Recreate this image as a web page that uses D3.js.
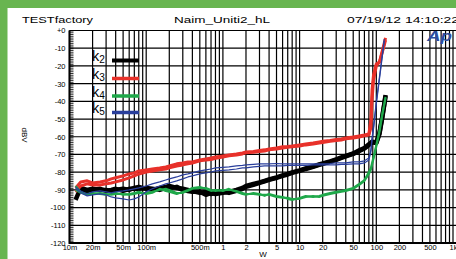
<!DOCTYPE html>
<html>
<head>
<meta charset="utf-8">
<script src="https://cdn.jsdelivr.net/npm/d3@7"></script>
<style>
  html, body { margin: 0; padding: 0; background: #fff; }
  svg { display: block; }
  text { font-family: "Liberation Sans", Arial, sans-serif; fill: #000; }
</style>
</head>
<body>
<div id="chart"></div>
<script>
// sweep points (output power, W)
var sweepW = [0.012, 0.014, 0.017, 0.02, 0.025, 0.03, 0.035, 0.04, 0.05, 0.06,
  0.07, 0.08, 0.1, 0.12, 0.15, 0.18, 0.2, 0.25, 0.3, 0.35,
  0.4, 0.5, 0.6, 0.7, 0.8, 1, 1.2, 1.5, 1.8, 2,
  2.5, 3, 3.5, 4, 5, 6, 7, 8, 10, 12,
  15, 18, 20, 25, 30, 35, 40, 50, 60, 70,
  80, 85, 88, 92, 100, 110, 120, 127, 132];

// harmonic levels, dBV (two channels each)
var k2Left = [-95.7, -88.9, -90.0, -89.4, -90.0, -90.0, -90.6, -90.0, -89.4, -90.0,
  -88.9, -88.3, -89.4, -90.0, -88.9, -88.3, -87.8, -88.9, -89.4, -90.0,
  -90.6, -91.7, -91.1, -92.3, -91.7, -91.1, -91.7, -90.6, -89.4, -88.3,
  -87.2, -86.1, -85.2, -84.4, -83.2, -82.1, -81.3, -80.4, -79.3, -78.2,
  -77.0, -75.9, -75.3, -74.2, -73.1, -72.0, -71.1, -69.7, -68.0, -66.6,
  -64.6, -63.8, -62.9, -63.2, -63.5, -58.4, -48.8, -42.0, -37.0];
var k2Right = [-90.0, -90.0, -90.6, -90.0, -89.4, -90.6, -90.0, -89.4, -90.6, -89.4,
  -89.4, -89.4, -88.9, -89.4, -90.0, -88.9, -88.9, -88.3, -90.0, -90.6,
  -91.1, -91.1, -92.8, -91.7, -92.3, -91.7, -91.1, -90.0, -88.9, -87.8,
  -86.6, -85.8, -84.9, -84.1, -83.0, -81.8, -81.0, -80.1, -79.0, -77.9,
  -76.7, -75.6, -75.1, -73.9, -72.8, -71.7, -70.8, -69.4, -67.7, -66.3,
  -64.3, -63.5, -62.9, -62.9, -63.2, -57.8, -48.3, -41.5, -36.4];
var k3Left = [-88.9, -85.5, -84.9, -86.1, -85.5, -84.9, -83.8, -83.2, -82.1, -81.0,
  -80.4, -79.3, -78.7, -78.2, -77.6, -77.0, -76.5, -75.3, -74.8, -74.2,
  -74.2, -73.1, -72.5, -72.0, -71.4, -70.8, -70.3, -69.7, -69.1, -68.6,
  -68.3, -67.7, -67.4, -66.9, -66.3, -65.7, -65.5, -65.2, -64.6, -64.1,
  -63.5, -62.9, -62.6, -62.1, -61.5, -61.2, -60.7, -60.1, -59.5, -59.0,
  -58.4, -50.5, -33.6, -25.1, -18.9, -17.8, -11.3, -7.2, -4.2];
var k3Right = [-91.1, -87.8, -86.6, -87.2, -87.2, -86.6, -86.1, -85.5, -84.4, -83.2,
  -82.1, -81.0, -79.9, -79.3, -78.7, -78.2, -77.6, -76.5, -75.9, -75.3,
  -74.8, -73.6, -73.1, -72.8, -72.2, -71.4, -70.8, -70.3, -69.7, -69.1,
  -68.8, -68.3, -68.0, -67.4, -66.9, -66.3, -66.0, -65.7, -65.2, -64.6,
  -64.1, -63.5, -63.2, -62.6, -62.1, -61.8, -61.2, -60.7, -60.1, -59.5,
  -59.0, -55.0, -39.2, -27.9, -20.0, -17.8, -12.1, -8.2, -5.4];
var k4Left = [-90.0, -91.7, -92.3, -91.7, -92.3, -92.8, -92.3, -91.7, -92.8, -92.3,
  -91.7, -91.1, -92.3, -91.7, -89.4, -90.6, -91.1, -92.3, -91.1, -90.0,
  -88.9, -88.3, -89.4, -90.6, -90.0, -90.6, -89.4, -91.1, -92.3, -92.8,
  -91.7, -92.3, -93.4, -92.3, -93.4, -94.0, -95.1, -95.7, -94.5, -93.4,
  -94.0, -93.4, -92.8, -91.7, -91.1, -90.6, -90.0, -88.9, -86.6, -84.4,
  -79.9, -77.6, -74.8, -71.4, -64.6, -56.2, -46.6, -41.5, -37.5];
var k4Right = [-87.8, -91.1, -92.8, -92.3, -91.7, -92.3, -92.8, -92.3, -92.3, -92.8,
  -92.3, -91.7, -91.7, -91.1, -90.0, -89.4, -90.0, -91.7, -91.7, -90.6,
  -89.4, -88.9, -88.9, -90.0, -90.6, -90.0, -90.0, -90.6, -91.7, -92.3,
  -92.3, -92.8, -92.8, -92.8, -94.0, -94.5, -94.5, -95.1, -95.1, -94.0,
  -93.4, -94.0, -93.4, -92.3, -91.7, -91.1, -90.6, -89.4, -87.2, -84.9,
  -81.0, -78.7, -75.9, -72.5, -65.7, -57.3, -47.7, -42.0, -38.1];
var k5Left = [-88.3, -90.6, -92.3, -91.1, -90.6, -91.1, -91.7, -91.1, -90.6, -90.0,
  -89.4, -88.9, -87.8, -86.6, -85.5, -84.4, -83.8, -82.7, -81.5, -81.0,
  -80.4, -79.3, -78.7, -78.2, -77.6, -77.3, -77.0, -76.5, -76.2, -75.9,
  -75.6, -75.3, -75.3, -75.3, -75.1, -75.3, -75.3, -75.3, -75.3, -75.3,
  -75.3, -75.3, -75.3, -75.1, -74.8, -74.8, -74.8, -74.2, -74.2, -73.6,
  -72.0, -67.4, -60.7, -54.5, -40.3, -26.2, -13.3, -4.8, null];
var k5Right = [-89.4, -91.7, -93.4, -92.8, -92.3, -92.8, -94.0, -94.5, -95.1, -95.7,
  -95.1, -94.0, -91.1, -89.4, -87.8, -86.6, -86.1, -84.9, -83.8, -82.7,
  -82.1, -81.0, -80.4, -79.9, -79.3, -79.0, -78.7, -78.2, -77.6, -77.6,
  -77.0, -76.7, -76.5, -76.5, -76.5, -76.5, -76.2, -76.2, -76.2, -76.2,
  -75.9, -75.9, -75.9, -75.9, -75.9, -75.6, -75.6, -75.3, -75.3, -74.8,
  -73.1, -68.6, -61.8, -55.6, -41.5, -27.3, -14.4, -5.9, null];

var seriesNames = ['2', '3', '4', '5'];
var seriesColors = ['#000000', '#e8312a', '#1fa84a', '#2a3f9c'];
var seriesWidths = [4.5, 3, 2, 1.2];
var seriesData = [[k2Left, k2Right], [k3Left, k3Right], [k4Left, k4Right], [k5Left, k5Right]];

var xTickLabels = [0.01, 0.02, 0.05, 0.1, 0.5, 1, 2, 5, 10, 20, 50, 100, 200, 500, 1000];
var yTickValues = d3.range(-120, 1, 10);

var width = 456, height = 259;

var svg = d3.select('#chart').append('svg')
  .attr('width', width)
  .attr('height', height);

// green frame
svg.append('rect').attr('x', 0).attr('y', 0).attr('width', width).attr('height', 8).attr('fill', '#68b550');
svg.append('rect').attr('x', 0).attr('y', 0).attr('width', 7.5).attr('height', height).attr('fill', '#68b550');

var x = d3.scaleLog().domain([0.01, 1000]).range([69.5, 453]);
var y = d3.scaleLinear().domain([-120, 0]).range([243, 30.5]);

// header texts
svg.append('text').attr('x', 22).attr('y', 23).attr('font-size', 9)
  .attr('textLength', 71).attr('lengthAdjust', 'spacingAndGlyphs').text('TESTfactory');
svg.append('text').attr('x', 174).attr('y', 23).attr('font-size', 9)
  .attr('textLength', 96).attr('lengthAdjust', 'spacingAndGlyphs').text('Naim_Uniti2_hL');
svg.append('text').attr('x', 347).attr('y', 23).attr('font-size', 9)
  .attr('textLength', 112).attr('lengthAdjust', 'spacingAndGlyphs').text('07/19/12 14:10:22');

// grid
var grid = svg.append('g');
grid.selectAll('line.v').data(x.ticks()).enter().append('line')
  .attr('x1', function(d) { return x(d); }).attr('x2', function(d) { return x(d); })
  .attr('y1', y(0)).attr('y2', y(-120))
  .attr('stroke', '#000').attr('stroke-width', 1.2);
grid.selectAll('line.h').data(yTickValues).enter().append('line')
  .attr('x1', x(0.01)).attr('x2', width)
  .attr('y1', function(d) { return y(d); }).attr('y2', function(d) { return y(d); })
  .attr('stroke', '#000').attr('stroke-width', 1.2);

// y axis: labels on the left, fine ticks inside
var yAxis = svg.append('g').attr('transform', 'translate(' + x(0.01) + ',0)')
  .call(d3.axisLeft(y).tickValues(yTickValues).tickSize(0).tickPadding(4)
    .tickFormat(function(d) { return d === 0 ? '+0' : d; }));
yAxis.select('.domain').remove();
yAxis.selectAll('text').attr('font-size', 7.5).attr('font-family', '"Liberation Sans", Arial, sans-serif');

var yMinor = svg.append('g').attr('transform', 'translate(' + x(0.01) + ',0)')
  .call(d3.axisRight(y).tickValues(d3.range(-120, 1, 1)).tickSize(4).tickFormat(''));
yMinor.select('.domain').remove();
yMinor.selectAll('line').attr('stroke-width', 0.8);

svg.append('line').attr('x1', x(0.01)).attr('x2', x(0.01)).attr('y1', y(0)).attr('y2', y(-120) + 1)
  .attr('stroke', '#000').attr('stroke-width', 2);
svg.append('line').attr('x1', x(0.01)).attr('x2', width).attr('y1', y(-120)).attr('y2', y(-120))
  .attr('stroke', '#000').attr('stroke-width', 2);

// x axis labels
var xAxis = svg.append('g').attr('transform', 'translate(0,' + y(-120) + ')')
  .call(d3.axisBottom(x).tickValues(xTickLabels).tickSize(0).tickPadding(2)
    .tickFormat(function(d) {
      if (d < 1) return Math.round(d * 1000) + 'm';
      if (d >= 1000) return (d / 1000) + 'k';
      return d;
    }));
xAxis.select('.domain').remove();
xAxis.selectAll('text').attr('font-size', 7.5).attr('font-family', '"Liberation Sans", Arial, sans-serif');

// axis titles
svg.append('text').attr('x', 263).attr('y', 257).attr('font-size', 8).attr('text-anchor', 'middle').text('W');
svg.append('text').attr('transform', 'translate(22,135) rotate(90)').attr('font-size', 8)
  .attr('text-anchor', 'middle').text('dBV');

// traces
var line = d3.line()
  .defined(function(d) { return d[1] !== null; })
  .x(function(d) { return x(d[0]); })
  .y(function(d) { return y(d[1]); });

var traces = svg.append('g');
seriesData.forEach(function(pair, i) {
  pair.forEach(function(vals) {
    traces.append('path')
      .datum(sweepW.map(function(f, j) { return [f, vals[j]]; }))
      .attr('fill', 'none')
      .attr('stroke', seriesColors[i])
      .attr('stroke-width', seriesWidths[i])
      .attr('stroke-linejoin', 'round')
      .attr('d', line);
  });
});

// legend
var legend = svg.append('g');
var legendY = [61, 79, 96.5, 113];
seriesNames.forEach(function(n, i) {
  var t = legend.append('text').attr('x', 92).attr('y', legendY[i]).attr('font-size', 14.5)
    .attr('font-weight', 300);
  t.append('tspan').text('k');
  t.append('tspan').attr('font-size', 10).attr('dy', 2).text(n);
  legend.append('line')
    .attr('x1', 112).attr('x2', 139)
    .attr('y1', legendY[i] - 0.5).attr('y2', legendY[i] - 0.5)
    .attr('stroke', seriesColors[i]).attr('stroke-width', i === 0 ? 4 : 3.5);
});

// Ap logo
svg.append('text').attr('x', 427).attr('y', 41).attr('font-size', 14)
  .attr('font-weight', 'bold').attr('font-style', 'italic')
  .attr('textLength', 25).attr('lengthAdjust', 'spacingAndGlyphs')
  .style('fill', '#2d4d9f').text('Ap');
</script>
</body>
</html>
